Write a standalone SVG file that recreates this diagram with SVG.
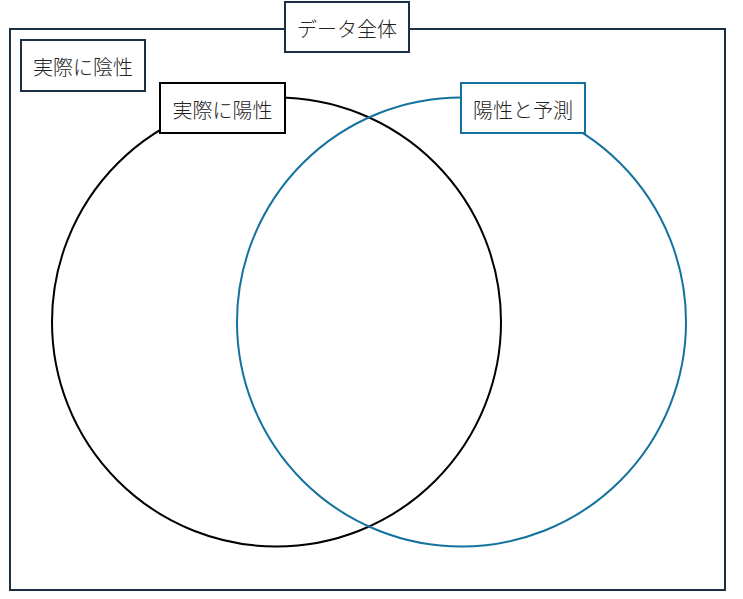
<svg xmlns="http://www.w3.org/2000/svg" width="743" height="599" viewBox="0 0 743 599">
<style>
.lbl{font-family:"Noto Sans CJK JP","Noto Sans CJK SC",sans-serif;font-size:20px;font-weight:300;fill:#222;text-anchor:middle;dominant-baseline:central}
.box{fill:#fff;stroke-width:2}
</style>
<rect width="743" height="599" fill="#fff"/>
<g id="all">
<rect x="10" y="29" width="715" height="561" fill="none" stroke="#1b2f45" stroke-width="2"/>
</g>
<g id="connectors">
<circle cx="276.5" cy="322" r="224.5" fill="none" stroke="#000" stroke-width="2"/>
<circle cx="461.5" cy="322" r="224.5" fill="none" stroke="#13729e" stroke-width="2"/>
</g>
<g id="title">
<rect class="box" x="285" y="2" width="124" height="50" stroke="#1b2f45"/>
<text class="lbl" x="347" y="28">データ全体</text>
</g>
<g id="negative">
<rect class="box" x="21" y="40" width="124" height="51" stroke="#1b2f45"/>
<text class="lbl" x="83" y="66">実際に陰性</text>
</g>
<g id="positive">
<rect class="box" x="160" y="83" width="125" height="50" stroke="#000"/>
<text class="lbl" x="222.5" y="109">実際に陽性</text>
</g>
<g id="predicted">
<rect class="box" x="461" y="83" width="124" height="50" stroke="#13729e"/>
<text class="lbl" x="523" y="109">陽性と予測</text>
</g>
</svg>
